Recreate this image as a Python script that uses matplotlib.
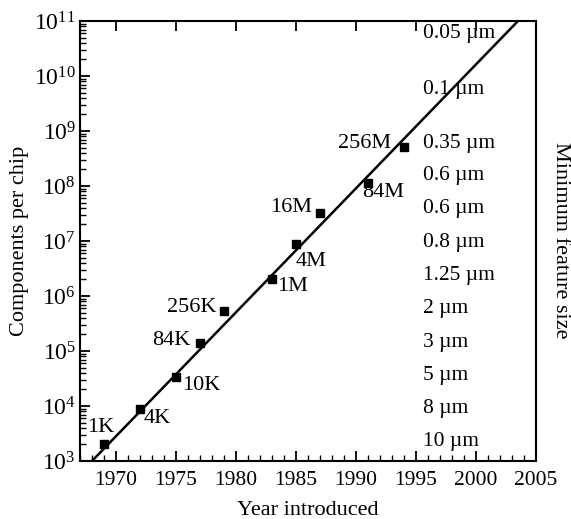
import numpy as np
import matplotlib.pyplot as plt
from matplotlib.ticker import MultipleLocator, LogLocator, NullFormatter

plt.rcParams['font.family'] = ['Liberation Serif', 'DejaVu Serif']
plt.rcParams['mathtext.fontset'] = 'stix'

# 数据：DRAM 芯片引入年份与每片元件数
years = [1969, 1972, 1975, 1977, 1979, 1983, 1985, 1987, 1991, 1994]
components = [2.0e3, 9.0e3, 3.3e4, 1.4e5, 5.3e5, 2.0e6, 9.0e6, 3.2e7, 1.15e8, 5.1e8]
labels = ['1K', '4K', '10K', '84K', '256K', '1M', '4M', '16M', '84M', '256M']
# 标签相对数据点的偏移（像素）
label_dx = [-3, 17, 25, -29, -32, 21, 15, -29, 15, -39]
label_dy = [17, -10, -8, 2, 4, -7, -18, 6, -10, 4]

# 趋势线端点
trend_years = [1968.0, 2003.5]
trend_vals = [1e3, 1e11]

# 右侧最小特征尺寸
feature_sizes = ['0.05 µm', '0.1 µm', '0.35 µm', '0.6 µm', '0.6 µm', '0.8 µm',
                 '1.25 µm', '2 µm', '3 µm', '5 µm', '8 µm', '10 µm']
feature_logy = [10.78, 9.75, 8.78, 8.2, 7.6, 6.98, 6.38, 5.78, 5.16, 4.56, 3.96, 3.35]

fig = plt.figure(figsize=(5.71, 5.19), dpi=100)
ax = fig.add_axes([80 / 571, 1 - 461 / 519, 456 / 571, 440 / 519])

ax.plot(trend_years, trend_vals, color='black', linewidth=1.8, zorder=3)
ax.plot(years, components, 's', color='black', markersize=6, zorder=4)

for x, y, t, dx, dy in zip(years, components, labels, label_dx, label_dy):
    ax.annotate(t, (x, y), xytext=(dx, dy), textcoords='offset pixels',
                ha='center', va='center', fontsize=16)

for t, ly in zip(feature_sizes, feature_logy):
    ax.text(1995.6, 10 ** ly, t, ha='left', va='center', fontsize=15.5)

ax.set_yscale('log')
ax.set_xlim(1967, 2005)
ax.set_ylim(1e3, 1e11)

ax.xaxis.set_major_locator(MultipleLocator(5))
ax.xaxis.set_minor_locator(MultipleLocator(1))
ax.yaxis.set_major_locator(LogLocator(base=10, numticks=20))
ax.yaxis.set_minor_locator(LogLocator(base=10, subs=np.arange(2, 10), numticks=20))
ax.yaxis.set_minor_formatter(NullFormatter())

ax.tick_params(axis='x', which='major', direction='in', length=7, width=1.3,
               top=True, labelsize=15.5, pad=7)
ax.tick_params(axis='x', which='minor', direction='in', length=4, width=1.0,
               top=False)
ax.tick_params(axis='y', which='major', direction='in', length=7, width=1.3,
               right=False, labelsize=17, pad=3)
ax.tick_params(axis='y', which='minor', direction='in', length=4, width=1.0,
               right=False)

for s in ax.spines.values():
    s.set_linewidth(1.5)

ax.set_xlabel('Year introduced', fontsize=16, labelpad=8)
ax.set_ylabel('Components per chip', fontsize=16, labelpad=4)
fig.text(560 / 571, 1 - 240 / 519, 'Minimum feature size', rotation=-90,
         ha='center', va='center', fontsize=16)

fig.savefig('out.png', dpi=100)
